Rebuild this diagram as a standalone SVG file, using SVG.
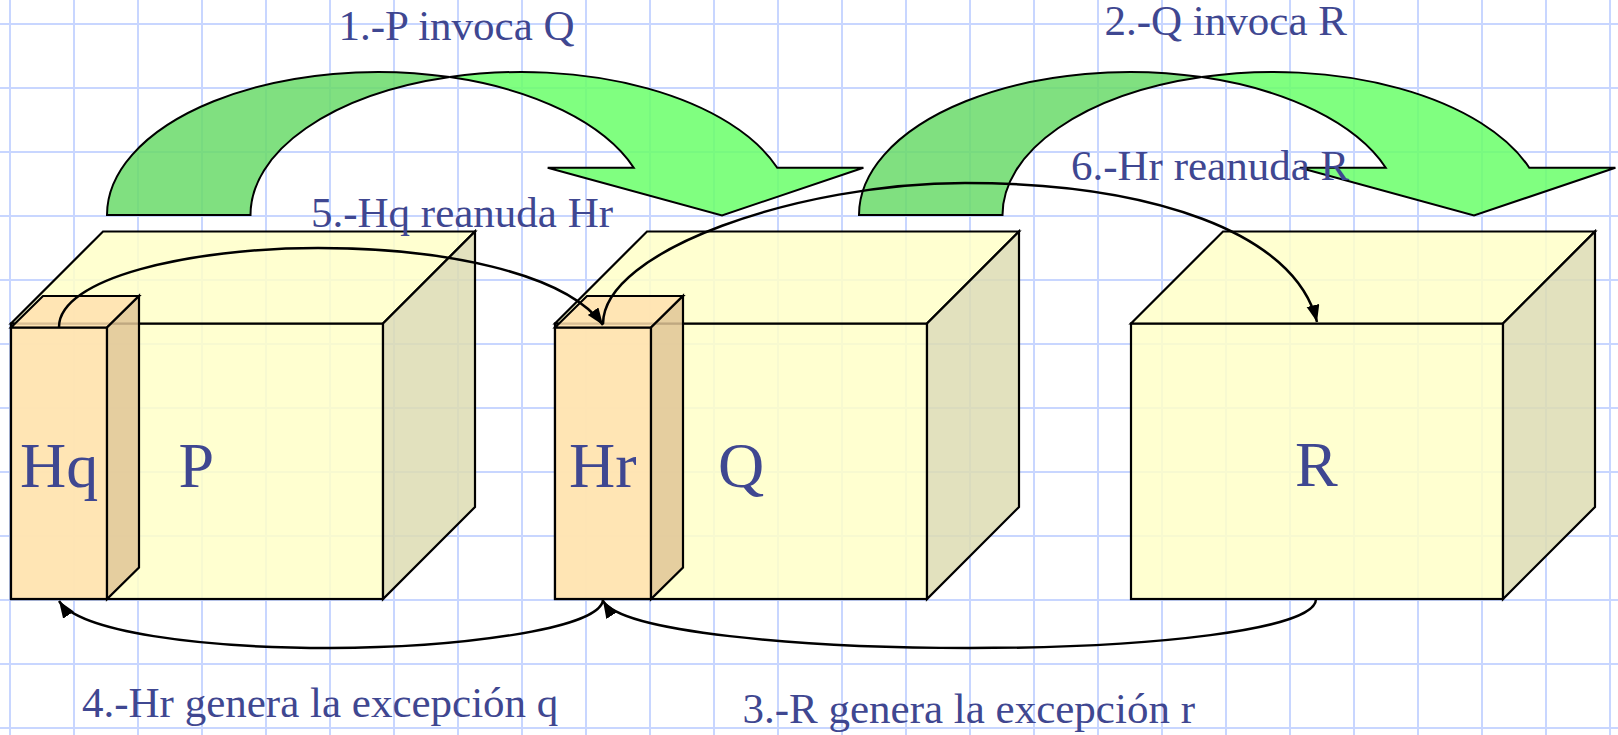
<svg xmlns="http://www.w3.org/2000/svg" width="1618" height="735" viewBox="0 0 1618 735">
<style>
.grid{stroke:#c8d6ff;stroke-width:2;fill:none}
.ln{stroke:#000;stroke-width:2.2;stroke-linejoin:miter}
.front{fill:#ffffc8;fill-opacity:0.85}
.side{fill:#dddcb3;fill-opacity:0.85}
.hfront{fill:#ffe0af;fill-opacity:0.85}
.hside{fill:#e0c597;fill-opacity:0.85}
.gdark{fill:#6adb6a;fill-opacity:0.85;stroke:#000;stroke-width:2}
.glight{fill:#6aff6a;fill-opacity:0.85;stroke:#000;stroke-width:2}
.conn{fill:none;stroke:#000;stroke-width:2.5;marker-end:url(#ah)}
.lbl{font-family:"Liberation Serif","Times New Roman",serif;font-size:43px;fill:#3f4791}
.big{font-family:"Liberation Serif","Times New Roman",serif;font-size:64px;fill:#3f4791}
</style>
<defs>
<marker id="ah" markerUnits="userSpaceOnUse" markerWidth="20" markerHeight="14" refX="17" refY="6.5" orient="auto">
<path d="M0,0 L17,6.5 L0,13 Z" fill="#000"/>
</marker>
<g id="garrow">
<path class="gdark" d="M107,215 A271,143 0 0 1 449.75,77.1 A271,143 0 0 0 250.5,215 Z"/>
<path class="glight" d="M449.75,77.1 A271,143 0 0 1 777.25,167.7 L863.4,167.7 L722,215.5 L547.7,167.7 L633.75,167.7 A271,143 0 0 0 449.75,77.1 Z"/>
</g>
</defs>
<rect width="1618" height="735" fill="#fff"/>
<path class="grid" d="M10,0V735M74,0V735M138,0V735M202,0V735M266,0V735M330,0V735M394,0V735M458,0V735M522,0V735M586,0V735M650,0V735M714,0V735M778,0V735M842,0V735M906,0V735M970,0V735M1034,0V735M1098,0V735M1162,0V735M1226,0V735M1290,0V735M1354,0V735M1418,0V735M1482,0V735M1546,0V735M1610,0V735M0,24H1618M0,88H1618M0,152H1618M0,216H1618M0,280H1618M0,344H1618M0,408H1618M0,472H1618M0,536H1618M0,600H1618M0,664H1618M0,728H1618"/>

<g id="invoke-arrows">
<use href="#garrow"/>
<use href="#garrow" transform="translate(752,0)"/>
</g>

<g id="P">
<rect class="front ln" x="11" y="323.5" width="372" height="275.5"/>
<polygon class="front ln" points="11,323.5 103,231.5 475,231.5 383,323.5"/>
<polygon class="side ln" points="383,323.5 475,231.5 475,507 383,599"/>
</g>
<g id="Hq">
<rect class="hfront ln" x="11" y="327.5" width="96" height="271.5"/>
<polygon class="hfront ln" points="11,327.5 43,296 139,296 107,327.5"/>
<polygon class="hside ln" points="107,327.5 139,296 139,567.5 107,599"/>
</g>
<g id="Q">
<rect class="front ln" x="555" y="323.5" width="372" height="275.5"/>
<polygon class="front ln" points="555,323.5 647,231.5 1019,231.5 927,323.5"/>
<polygon class="side ln" points="927,323.5 1019,231.5 1019,507 927,599"/>
</g>
<g id="Hr">
<rect class="hfront ln" x="555" y="327.5" width="96" height="271.5"/>
<polygon class="hfront ln" points="555,327.5 587,296 683,296 651,327.5"/>
<polygon class="hside ln" points="651,327.5 683,296 683,567.5 651,599"/>
</g>
<g id="R">
<rect class="front ln" x="1131" y="323.5" width="372" height="275.5"/>
<polygon class="front ln" points="1131,323.5 1223,231.5 1595,231.5 1503,323.5"/>
<polygon class="side ln" points="1503,323.5 1595,231.5 1595,507 1503,599"/>
</g>

<g id="connectors">
<path class="conn" d="M59,327 C59,278 190,248 318,248 C440,248 565,272 603,325"/>
<path class="conn" d="M603,324 C603,250 800,183 965,183 C1150,183 1295,232 1317,322"/>
<path class="conn" d="M1316,599 C1316,630 1150,648 969,648 C800,648 622,632 603,601"/>
<path class="conn" d="M603,599 C603,630 450,648 330,648 C200,648 80,632 59,601"/>
</g>

<g id="labels">
<text class="lbl" x="338.5" y="40">1.-P invoca Q</text>
<text class="lbl" x="1104.5" y="35">2.-Q invoca R</text>
<text class="lbl" x="311" y="226.5">5.-Hq reanuda Hr</text>
<text class="lbl" x="1071" y="180">6.-Hr reanuda R</text>
<text class="lbl" x="82" y="716.5">4.-Hr genera la excepción q</text>
<text class="lbl" x="742.5" y="723">3.-R genera la excepción r</text>
<text class="big" x="20" y="486.5">Hq</text>
<text class="big" x="178.5" y="486.5">P</text>
<text class="big" x="569" y="486.5">Hr</text>
<text class="big" x="718" y="486.5">Q</text>
<text class="big" x="1295" y="485.5">R</text>
</g>
</svg>
